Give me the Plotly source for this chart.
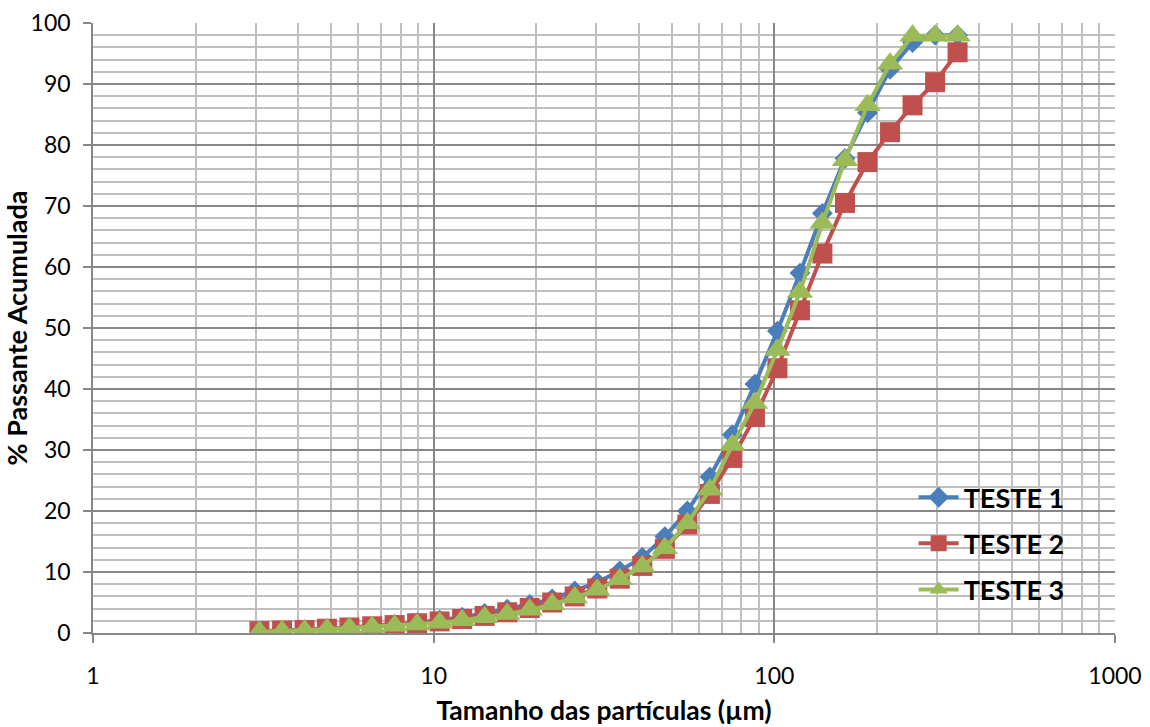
import plotly.graph_objects as go

# Particle size (µm) and cumulative passing (%) for three test runs
tamanho = [3.08, 3.59, 4.18, 4.86, 5.66, 6.60, 7.68, 8.94, 10.41, 12.12,
           14.11, 16.44, 19.14, 22.28, 25.95, 30.22, 35.18, 40.97, 47.71, 55.55,
           64.68, 75.31, 87.70, 102.1, 118.9, 138.4, 161.2, 187.7, 218.6, 254.5,
           296.4, 345.1]
teste1 = [0.3, 0.4, 0.5, 0.7, 0.9, 1.1, 1.4, 1.7, 2.1, 2.6,
          3.2, 3.9, 4.7, 5.6, 6.9, 8.3, 10.2, 12.4, 15.8, 20.0,
          25.6, 32.5, 40.8, 49.5, 59.0, 68.8, 77.8, 85.3, 92.4, 96.8,
          98.0, 98.0]
teste2 = [0.3, 0.4, 0.5, 0.7, 0.9, 1.1, 1.3, 1.6, 1.9, 2.3,
          2.8, 3.4, 4.1, 5.0, 6.0, 7.3, 8.9, 11.0, 13.8, 17.8,
          22.8, 28.7, 35.4, 43.4, 52.9, 62.2, 70.5, 77.2, 82.1, 86.5,
          90.3, 95.2]
teste3 = [0.2, 0.3, 0.4, 0.6, 0.8, 1.0, 1.2, 1.4, 1.7, 2.1,
          2.6, 3.1, 3.8, 4.7, 5.8, 7.1, 8.8, 10.9, 13.9, 18.0,
          23.5, 30.8, 37.7, 46.4, 55.9, 67.2, 77.5, 86.5, 93.3, 97.9,
          97.9, 97.9]

series = [
    ("TESTE 1", teste1, "#4A7EBB", "diamond", 16),
    ("TESTE 2", teste2, "#C0504D", "square", 20),
    ("TESTE 3", teste3, "#9BBB59", "triangle-up", 23),
]

fig = go.Figure()
for nome, valores, cor, simbolo, tam in series:
    fig.add_trace(go.Scatter(
        x=tamanho, y=valores, name=nome, mode="lines+markers",
        legendgroup=nome,
        line=dict(color=cor, width=4),
        marker=dict(symbol=simbolo, size=tam, color=cor, line=dict(width=0)),
    ))

major_grid = "#878787"
minor_grid = "#BFBFBF"
font_family = "Lato, Liberation Sans, sans-serif"

fig.update_layout(
    width=1150, height=727,
    margin=dict(l=93, r=35, t=23, b=94),
    paper_bgcolor="white", plot_bgcolor="white",
    font=dict(family=font_family, size=22, color="black"),
    showlegend=True,
    legend=dict(
        x=0.803, y=0.262, xanchor="left", yanchor="top",
        bgcolor="rgba(0,0,0,0)", borderwidth=0,
        font=dict(family=font_family, size=27, color="black", weight="bold"),
        itemwidth=40, tracegroupgap=8,
    ),
    xaxis=dict(
        type="log", range=[0, 3], automargin=False,
        tickvals=[1, 10, 100, 1000], ticktext=["1", "10", "100", "1000"],
        showgrid=True, gridcolor=major_grid, gridwidth=1.5,
        minor=dict(showgrid=True, gridcolor=minor_grid, gridwidth=1.5,
                   dtick="D1", ticks=""),
        ticks="outside", ticklen=8, tickcolor=major_grid, tickwidth=1.5,
        ticklabelstandoff=14,
        showline=True, linecolor=major_grid, linewidth=1.5, mirror=False,
        zeroline=False,
        tickfont=dict(size=23),
        title=dict(text="Tamanho das partículas (µm)",
                   font=dict(size=26.5, weight="bold"), standoff=13),
    ),
    yaxis=dict(
        range=[0, 100], dtick=10, automargin=False,
        showgrid=True, gridcolor=major_grid, gridwidth=1.5,
        minor=dict(showgrid=True, gridcolor=minor_grid, gridwidth=1.5,
                   dtick=2, ticks=""),
        ticks="outside", ticklen=8, tickcolor=major_grid, tickwidth=1.5,
        ticklabelstandoff=8,
        showline=True, linecolor=major_grid, linewidth=1.5,
        zeroline=False,
        tickfont=dict(size=23),
        title=dict(text="% Passante Acumulada",
                   font=dict(size=27, weight="bold"), standoff=4),
    ),
)

fig.write_html("out.html")
